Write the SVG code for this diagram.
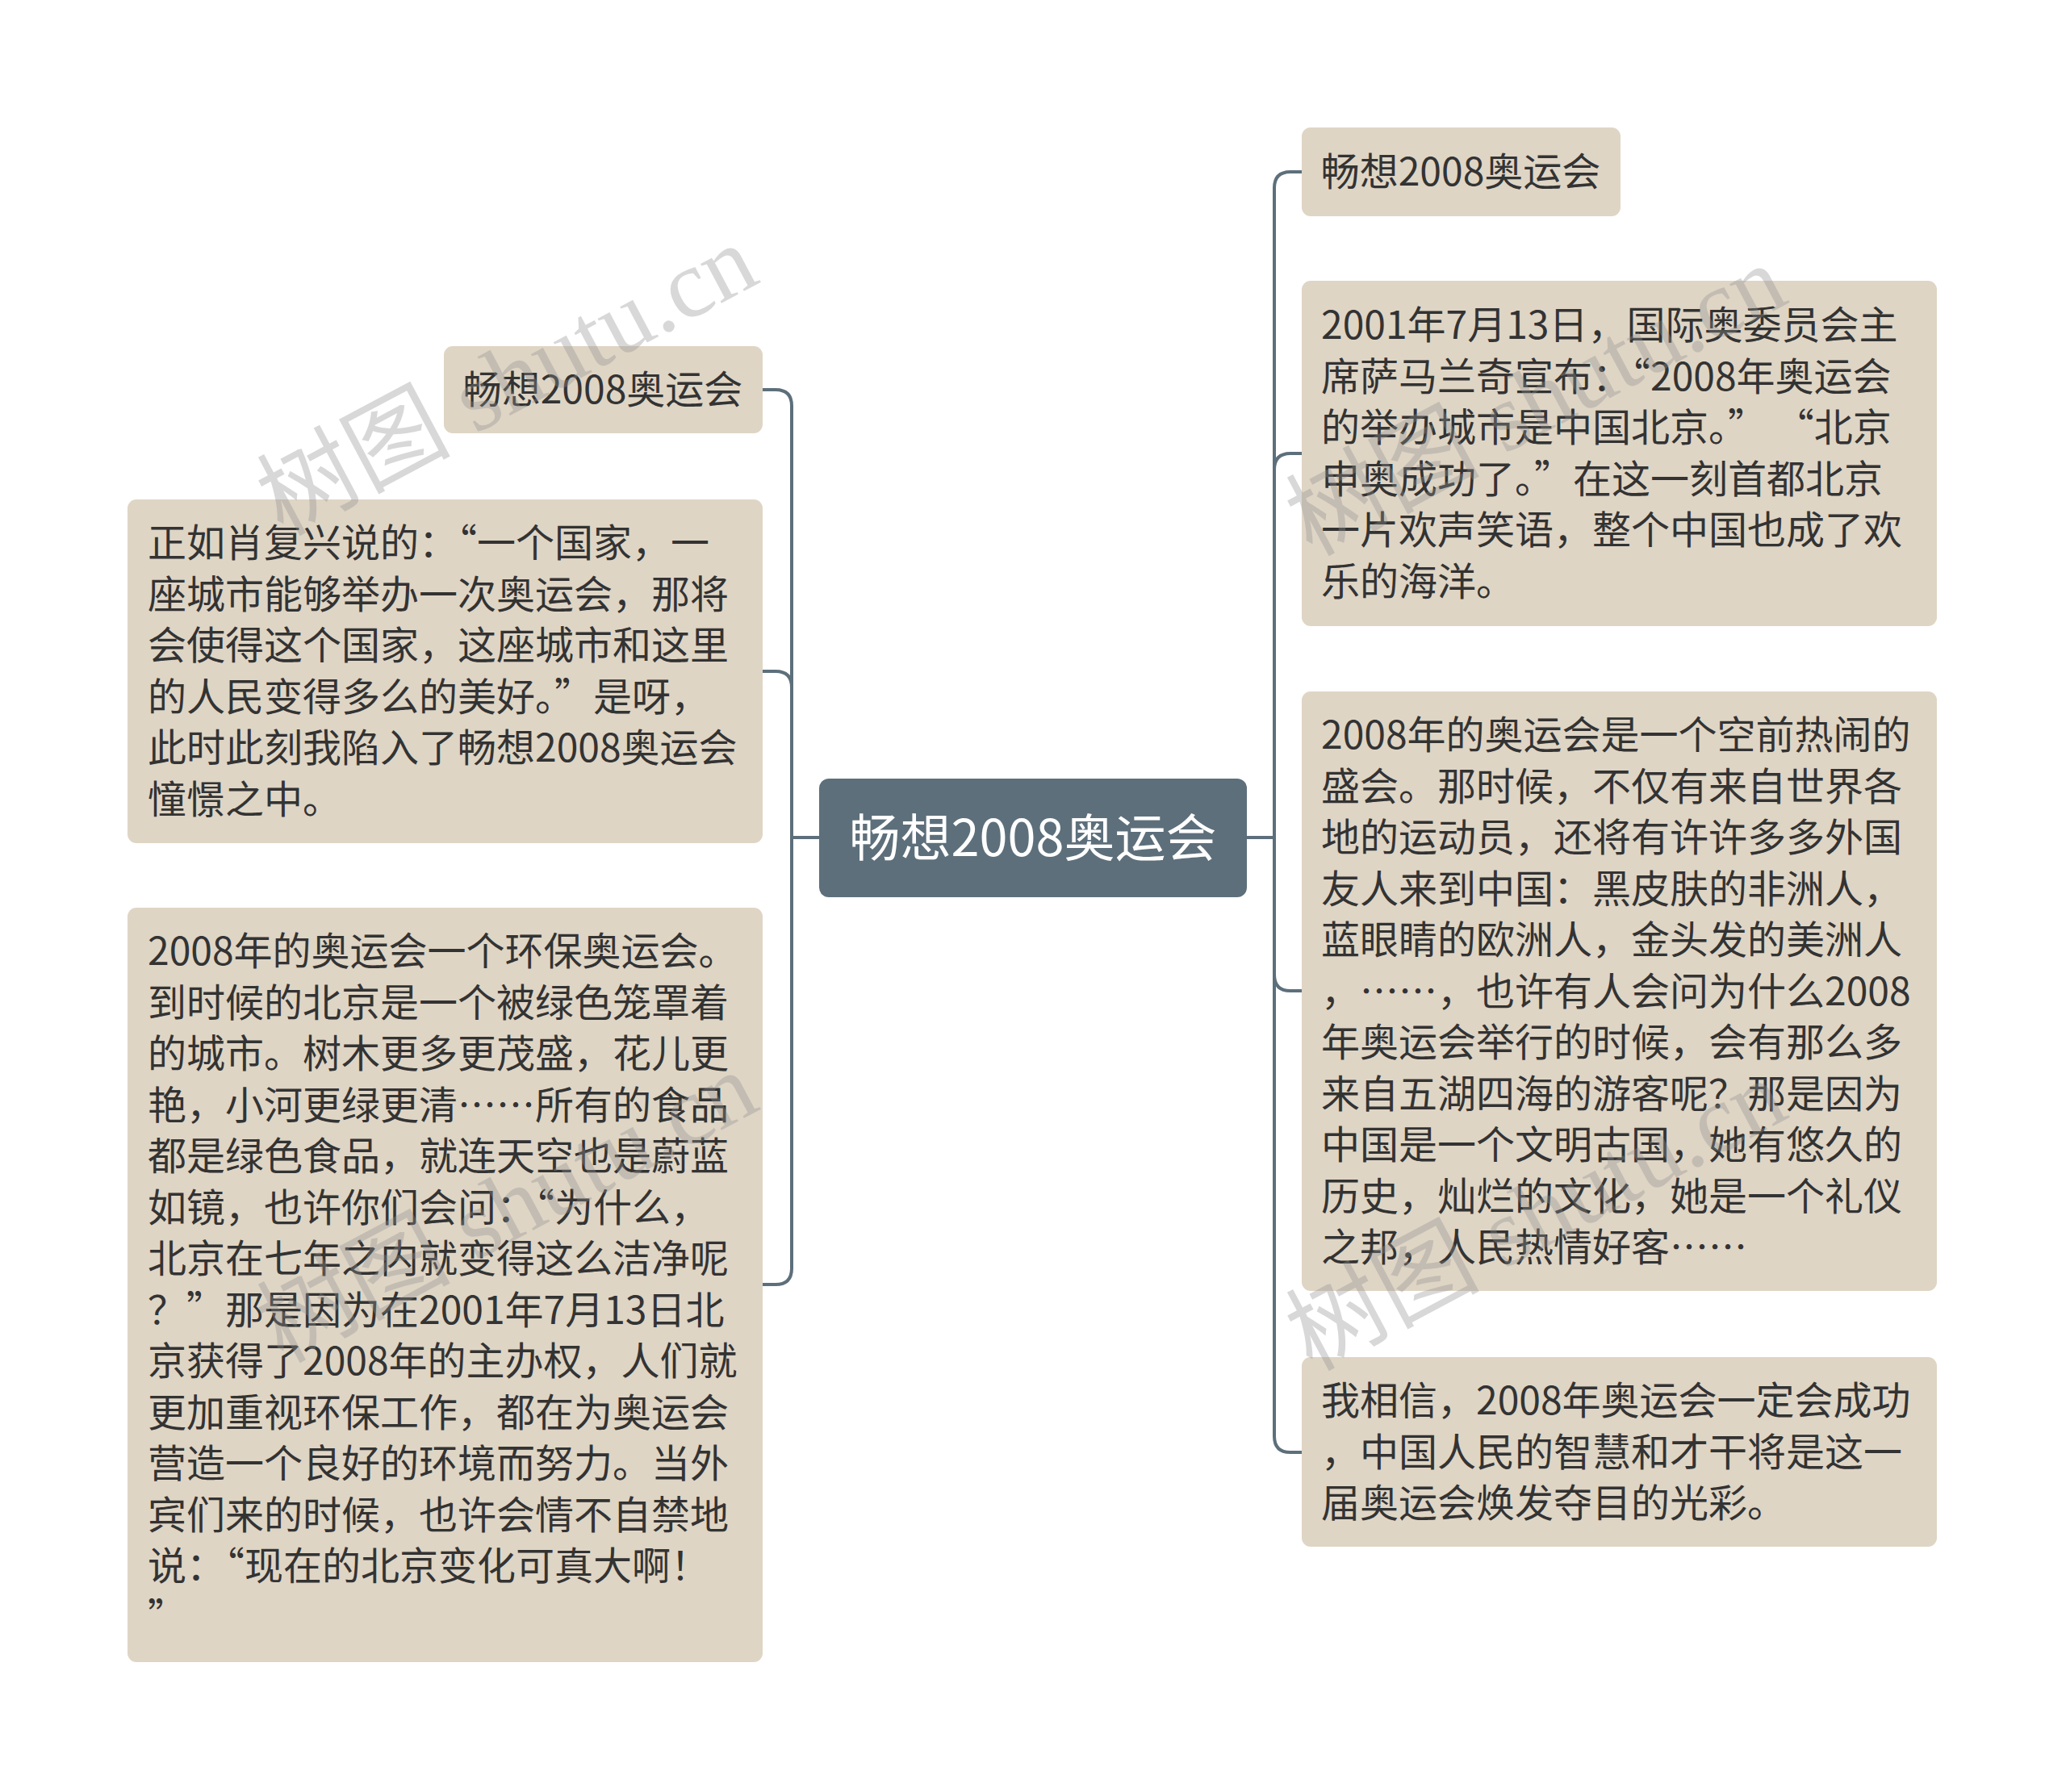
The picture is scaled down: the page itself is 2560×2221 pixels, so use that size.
<svg xmlns="http://www.w3.org/2000/svg" width="2560" height="2221" viewBox="0 0 2560 2221">
<style>
.box{fill:#dfd5c5;}
.main{fill:#5d6f7b;}
.t{font-family:"Noto Sans CJK SC","Microsoft YaHei",sans-serif;font-size:48px;fill:#333333;}
.tt{font-family:"Noto Sans CJK SC","Microsoft YaHei",sans-serif;font-size:48px;fill:#333333;}
.mt{font-family:"Noto Sans CJK SC","Microsoft YaHei",sans-serif;font-size:63px;fill:#ffffff;}
.c{fill:none;stroke:#5d6f7b;stroke-width:4;}
.wm{font-family:"Liberation Serif","Noto Sans CJK SC",serif;font-size:120px;fill:#8f8f8f;fill-opacity:0.35;}
</style>
<rect width="2560" height="2221" fill="#ffffff"/>
<g id="connectors">
<path class="c" d="M1545,1038 H1579"/>
<path class="c" d="M1579,1038 V233 Q1579,213 1599,213 H1613"/>
<path class="c" d="M1579,1038 V582 Q1579,562 1599,562 H1613"/>
<path class="c" d="M1579,1038 V1208 Q1579,1228 1599,1228 H1613"/>
<path class="c" d="M1579,1038 V1780 Q1579,1800 1599,1800 H1613"/>
<path class="c" d="M1015,1038 H981"/>
<path class="c" d="M981,1038 V503 Q981,483 961,483 H945"/>
<path class="c" d="M981,1038 V852 Q981,832 961,832 H945"/>
<path class="c" d="M981,1038 V1572 Q981,1592 961,1592 H945"/>
</g>
<g id="root">
<rect class="main" x="1015" y="965" width="530" height="147" rx="12"/>
<text class="mt" x="1280" y="1061" text-anchor="middle">畅想2008奥运会</text>
</g>
<g id="r1">
<rect class="box" x="1613" y="158" width="395" height="110" rx="11"/>
<text class="tt" x="1810" y="230" text-anchor="middle">畅想2008奥运会</text>
</g>
<g id="r2">
<rect class="box" x="1613" y="348" width="787" height="428" rx="11"/>
<text class="t" x="1637" y="420"><tspan x="1637">2001年7月13日，国际奥委员会主</tspan><tspan x="1637" dy="63.5">席萨马兰奇宣布：“2008年奥运会</tspan><tspan x="1637" dy="63.5">的举办城市是中国北京。” “北京</tspan><tspan x="1637" dy="63.5">申奥成功了。”在这一刻首都北京</tspan><tspan x="1637" dy="63.5">一片欢声笑语，整个中国也成了欢</tspan><tspan x="1637" dy="63.5">乐的海洋。</tspan></text>
</g>
<g id="r3">
<rect class="box" x="1613" y="857" width="787" height="743" rx="11"/>
<text class="t" x="1637" y="928"><tspan x="1637">2008年的奥运会是一个空前热闹的</tspan><tspan x="1637" dy="63.5">盛会。那时候，不仅有来自世界各</tspan><tspan x="1637" dy="63.5">地的运动员，还将有许许多多外国</tspan><tspan x="1637" dy="63.5">友人来到中国：黑皮肤的非洲人，</tspan><tspan x="1637" dy="63.5">蓝眼睛的欧洲人，金头发的美洲人</tspan><tspan x="1637" dy="63.5">，……，也许有人会问为什么2008</tspan><tspan x="1637" dy="63.5">年奥运会举行的时候，会有那么多</tspan><tspan x="1637" dy="63.5">来自五湖四海的游客呢？那是因为</tspan><tspan x="1637" dy="63.5">中国是一个文明古国，她有悠久的</tspan><tspan x="1637" dy="63.5">历史，灿烂的文化，她是一个礼仪</tspan><tspan x="1637" dy="63.5">之邦，人民热情好客……</tspan></text>
</g>
<g id="r4">
<rect class="box" x="1613" y="1682" width="787" height="235" rx="11"/>
<text class="t" x="1637" y="1753"><tspan x="1637">我相信，2008年奥运会一定会成功</tspan><tspan x="1637" dy="63.5">，中国人民的智慧和才干将是这一</tspan><tspan x="1637" dy="63.5">届奥运会焕发夺目的光彩。</tspan></text>
</g>
<g id="l1">
<rect class="box" x="550" y="429" width="395" height="108" rx="11"/>
<text class="tt" x="747" y="500" text-anchor="middle">畅想2008奥运会</text>
</g>
<g id="l2">
<rect class="box" x="158" y="619" width="787" height="426" rx="11"/>
<text class="t" x="183" y="690"><tspan x="183">正如肖复兴说的：“一个国家，一</tspan><tspan x="183" dy="63.5">座城市能够举办一次奥运会，那将</tspan><tspan x="183" dy="63.5">会使得这个国家，这座城市和这里</tspan><tspan x="183" dy="63.5">的人民变得多么的美好。”是呀，</tspan><tspan x="183" dy="63.5">此时此刻我陷入了畅想2008奥运会</tspan><tspan x="183" dy="63.5">憧憬之中。</tspan></text>
</g>
<g id="l3">
<rect class="box" x="158" y="1125" width="787" height="935" rx="11"/>
<text class="t" x="183" y="1196"><tspan x="183">2008年的奥运会一个环保奥运会。</tspan><tspan x="183" dy="63.5">到时候的北京是一个被绿色笼罩着</tspan><tspan x="183" dy="63.5">的城市。树木更多更茂盛，花儿更</tspan><tspan x="183" dy="63.5">艳，小河更绿更清……所有的食品</tspan><tspan x="183" dy="63.5">都是绿色食品，就连天空也是蔚蓝</tspan><tspan x="183" dy="63.5">如镜，也许你们会问：“为什么，</tspan><tspan x="183" dy="63.5">北京在七年之内就变得这么洁净呢</tspan><tspan x="183" dy="63.5">？”那是因为在2001年7月13日北</tspan><tspan x="183" dy="63.5">京获得了2008年的主办权，人们就</tspan><tspan x="183" dy="63.5">更加重视环保工作，都在为奥运会</tspan><tspan x="183" dy="63.5">营造一个良好的环境而努力。当外</tspan><tspan x="183" dy="63.5">宾们来的时候，也许会情不自禁地</tspan><tspan x="183" dy="63.5">说：“现在的北京变化可真大啊！</tspan><tspan x="183" dy="63.5">”</tspan></text>
</g>
<g id="watermarks">
<text class="wm" transform="translate(350,665) rotate(-28)">树图 shutu.cn</text>
<text class="wm" transform="translate(1625,690) rotate(-28)">树图 shutu.cn</text>
<text class="wm" transform="translate(350,1690) rotate(-28)">树图 shutu.cn</text>
<text class="wm" transform="translate(1625,1700) rotate(-28)">树图 shutu.cn</text>
</g>
</svg>
